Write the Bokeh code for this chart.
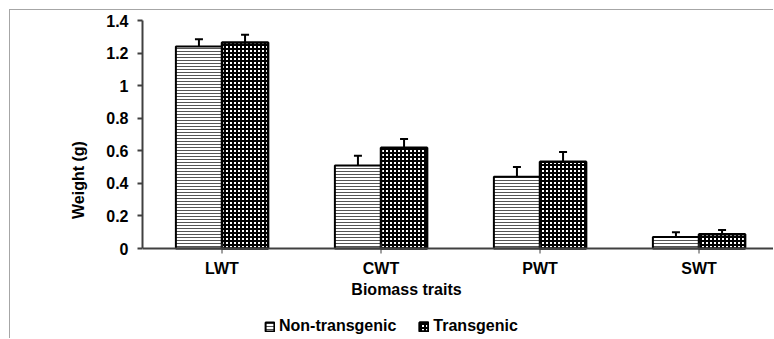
from bokeh.plotting import figure
from bokeh.models import (Range1d, FixedTicker, Whisker, TeeHead, ColumnDataSource,
                          Legend, LegendItem, Label, Span)
from bokeh.core.properties import value
from bokeh.embed import file_html
from bokeh.resources import INLINE
import math

categories = ["LWT", "CWT", "PWT", "SWT"]
non_transgenic = [1.24, 0.51, 0.44, 0.07]
non_transgenic_err = [0.045, 0.06, 0.06, 0.03]
transgenic = [1.265, 0.618, 0.532, 0.088]
transgenic_err = [0.047, 0.055, 0.06, 0.025]
y_ticks = [0, 0.2, 0.4, 0.6, 0.8, 1.0, 1.2, 1.4]
y_tick_labels = ["0", "0.2", "0.4", "0.6", "0.8", "1", "1.2", "1.4"]

FONT = "Liberation Sans"
BW = 0.29
PXU = 228 / 1.4          # pixels per y unit
xs = [i + 1 for i in range(len(categories))]

src_n = ColumnDataSource(dict(
    x=[x - BW / 2 for x in xs], top=non_transgenic,
    up=[v + e for v, e in zip(non_transgenic, non_transgenic_err)]))
src_t = ColumnDataSource(dict(
    x=[x + BW / 2 for x in xs], top=transgenic,
    up=[v + e for v, e in zip(transgenic, transgenic_err)]))

p = figure(width=764, height=329, output_backend="svg", toolbar_location=None,
           x_range=Range1d(0.5, 0.5 + 632 / 159),
           y_range=Range1d(-(339 - 248) / PXU, 1.4),
           x_axis_location=None,
           min_border_left=132, min_border_right=0, min_border_top=10,
           min_border_bottom=0)
p.styles = {"margin-left": "9px", "margin-top": "9px",
            "border-left": "1px solid #a6a6a6", "border-top": "1px solid #a6a6a6"}
p.outline_line_color = None
p.grid.visible = False
p.background_fill_color = "white"

r_n = p.vbar(x="x", top="top", width=BW, bottom=0, source=src_n,
             fill_color="white", line_color="black", line_width=2,
             hatch_pattern="horizontal_line", hatch_color="#555555",
             hatch_scale=3, hatch_weight=1)
r_t = p.vbar(x="x", top="top", width=BW, bottom=0, source=src_t,
             fill_color="white", line_color="black", line_width=2.5,
             hatch_pattern="cross", hatch_color="black",
             hatch_scale=4, hatch_weight=2)

for src in (src_n, src_t):
    w = Whisker(base="x", lower="top", upper="up", source=src, dimension="height",
                line_color="black", line_width=2,
                upper_head=TeeHead(size=8, line_color="black", line_width=2),
                lower_head=None)
    p.add_layout(w)

# x axis line, ticks and labels
p.add_layout(Span(location=0, dimension="width", line_color="#404040", line_width=2))
p.scatter(x=xs, y=[0] * len(xs), marker="dash", angle=math.pi / 2, size=10,
          line_color="#404040", line_width=1)
p.text(x=xs, y=[-20 / PXU] * len(xs), text=categories,
       text_font=value(FONT), text_font_style="bold", text_font_size="16px",
       text_align="center", text_baseline="middle", text_color="black")

p.add_layout(Label(x=0.5 + (406 - 142) / 159, y=-(289 - 248) / PXU,
                   text="Biomass traits", text_font=FONT, text_font_style="bold",
                   text_font_size="16px", text_align="center",
                   text_baseline="middle", text_color="black"))

# y axis
yax = p.yaxis[0]
yax.bounds = (0, 1.4)
yax.ticker = FixedTicker(ticks=y_ticks)
yax.major_label_overrides = {t: l for t, l in zip(y_ticks, y_tick_labels)}
yax.axis_line_color = "#404040"
yax.axis_line_width = 2
yax.major_tick_line_color = "#404040"
yax.major_tick_line_width = 2
yax.major_tick_out = 5
yax.major_tick_in = 0
yax.minor_tick_line_color = None
yax.major_label_text_font = FONT
yax.major_label_text_font_style = "bold"
yax.major_label_text_font_size = "16px"
yax.major_label_text_color = "black"
yax.major_label_standoff = 9
yax.axis_label = "Weight (g)"
yax.axis_label_text_font = FONT
yax.axis_label_text_font_style = "bold"
yax.axis_label_text_font_size = "16px"
yax.axis_label_text_color = "black"
yax.axis_label_standoff = 16

legend = Legend(items=[LegendItem(label="Non-transgenic", renderers=[r_n]),
                       LegendItem(label="Transgenic", renderers=[r_t])],
                orientation="horizontal", location=(122, 4),
                glyph_width=11, glyph_height=11, label_standoff=4, spacing=22,
                padding=0, margin=0, border_line_color=None,
                background_fill_alpha=0, label_text_font=FONT,
                label_text_font_style="bold", label_text_font_size="16px",
                label_text_color="black", label_height=16)
p.add_layout(legend, "center")

open("out.html", "w").write(file_html(p, INLINE))
